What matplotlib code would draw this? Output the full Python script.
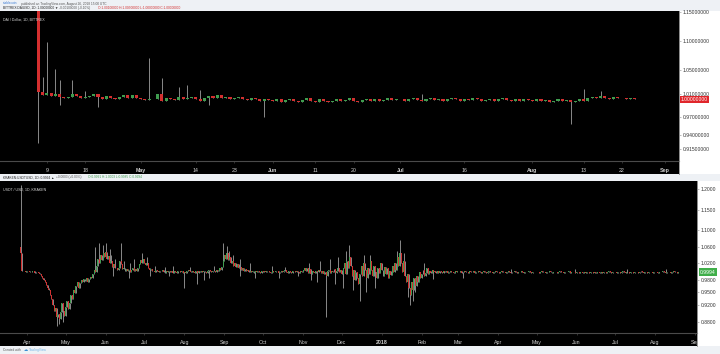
import matplotlib
matplotlib.use("Agg")
import matplotlib.pyplot as plt
import matplotlib.dates as mdates
import matplotlib.transforms as mtransforms
from matplotlib.patches import Rectangle
import numpy as np
import pandas as pd

W, H = 720, 354

# DAI / Dollar, 1D, BITTREX  (daily closes, open = previous close)
dai_start = "2018-04-07"
dai_first_open = 1.20
dai_close = [
    1.012, 1.008, 1.011, 1.006, 1.009, 1.005, 1.003, 1.005, 1.010, 1.006, 1.002, 1.004,
    1.006, 1.009, 1.004, 1.001, 1.006, 1.003, 1.000, 1.005, 1.007, 1.003, 1.007, 1.003,  # Apr
    1.000, 0.999, 1.001, 1.000, 1.009, 0.998, 1.003, 1.001, 0.999, 1.004, 1.000, 1.002,
    1.005, 1.001, 0.998, 1.002, 1.006, 1.003, 1.007, 1.002, 1.004, 1.000, 1.003, 1.005,
    1.001, 0.999, 1.002, 1.000, 0.997, 1.001, 0.999,  # May
    0.998, 1.000, 0.996, 0.999, 1.001, 0.997, 0.995, 0.999, 1.002, 0.998, 0.996, 1.000,
    0.997, 0.995, 0.998, 1.001, 0.997, 0.999, 1.002, 0.998, 0.996, 0.999, 1.001, 0.998,
    1.000, 0.997, 0.999, 1.002, 0.999, 1.000,  # Jun
    1.001, 0.998, 1.000, 1.003, 0.999, 0.997, 1.000, 1.002, 0.999, 1.001, 0.998, 1.000,
    1.003, 1.000, 0.998, 1.001, 0.999, 1.002, 1.000, 0.997, 0.999, 1.001, 0.998, 1.000,
    1.002, 0.999, 0.997, 1.000, 0.998, 1.001, 0.999,  # Jul
    0.998, 1.000, 0.997, 0.999, 0.996, 0.998, 1.000, 0.997, 0.999, 0.995, 0.998, 1.001,
    0.997, 1.003, 1.005, 1.002, 1.006, 1.003, 1.001, 1.004, 1.002, 1.003, 1.001, 1.002,
    1.000, 1.000,  # Aug
]
dai_high = {1: 1.038, 2: 1.098, 4: 1.052, 5: 1.033, 8: 1.033, 11: 1.015, 26: 1.071,
            29: 1.037, 33: 1.022, 35: 1.025, 38: 1.016, 90: 1.010, 128: 1.018, 132: 1.014}
dai_low = {0: 0.925, 5: 0.990, 14: 0.988, 40: 0.990, 53: 0.970, 125: 0.958}
dai_xticks = ["2018-04-09", "2018-04-18", "2018-05-01", "2018-05-14", "2018-05-23",
              "2018-06-01", "2018-06-11", "2018-06-20", "2018-07-01", "2018-07-16",
              "2018-08-01", "2018-08-13", "2018-08-22", "2018-09-01"]
dai_xlabels = ["9", "18", "May", "14", "23", "Jun", "11", "20", "Jul", "16",
               "Aug", "13", "22", "Sep"]
dai_yticks = [1.15, 1.10, 1.05, 1.01, 0.97, 0.94, 0.915]
dai_last = 1.0

# USDT / USD, 1D, KRAKEN
usdt_start = "2017-03-27"
usdt_first_open = 1.06
usdt_close = [
    1.045, 1.002, 1.001, 1.003, 1.000,  # Mar 2017
    1.001, 1.002, 0.999, 1.000, 1.002, 1.001, 0.998, 0.999, 1.000, 0.997, 0.994, 0.990,
    0.986, 0.981, 0.975, 0.969, 0.962, 0.955, 0.945, 0.935, 0.920, 0.905, 0.912, 0.890,
    0.898, 0.885, 0.902, 0.925, 0.905, 0.893,  # Apr
    0.915, 0.930, 0.910, 0.925, 0.945, 0.935, 0.955, 0.948, 0.965, 0.975, 0.960, 0.972,
    0.980, 0.975, 0.982, 0.978, 0.985, 0.976, 0.983, 0.988, 0.984, 0.995, 1.005, 1.000,
    1.015, 1.030, 1.022, 1.040, 1.028, 1.045, 1.035,  # May
    1.048, 1.030, 1.038, 1.020, 1.025, 1.012, 1.018, 1.008, 1.010, 1.004, 1.008, 1.025,
    1.018, 1.006, 1.010, 1.003, 1.007, 1.001, 1.005, 1.000, 1.004, 1.008, 1.002, 1.006,
    1.003, 1.010, 1.018, 1.028, 1.022, 1.030,  # Jun
    1.020, 1.016, 1.020, 1.008, 1.004, 1.006, 1.001, 1.003, 1.000, 1.004, 1.002, 0.999,
    1.003, 1.001, 1.004, 1.000, 0.998, 1.002, 1.000, 1.003, 0.999, 1.001, 0.997, 1.002,
    1.000, 0.998, 1.003, 1.001, 0.999, 1.002, 0.998,  # Jul
    1.000, 0.997, 1.002, 1.004, 1.001, 0.999, 1.003, 1.000, 0.998, 1.002, 0.997, 1.001,
    1.000, 1.003, 0.999, 1.002, 1.000, 0.998, 1.001, 1.004, 1.002, 0.999, 1.001, 1.003,
    1.000, 1.005, 1.002, 1.008, 1.004, 1.012, 1.025,  # Aug
    1.040, 1.030, 1.045, 1.028, 1.036, 1.020, 1.025, 1.015, 1.022, 1.012, 1.018, 1.008,
    1.012, 1.005, 1.009, 1.002, 1.006, 1.001, 1.004, 0.999, 1.003, 1.000, 1.002, 0.998,
    1.001, 0.999, 1.003, 1.000, 0.998, 1.001,  # Sep
    1.000, 1.002, 0.999, 1.001, 1.003, 1.000, 0.998, 1.002, 1.000, 0.999, 1.003, 1.001,
    0.998, 1.000, 1.002, 0.999, 1.001, 1.004, 1.000, 0.997, 1.002, 1.000, 0.998, 1.001,
    1.003, 0.999, 1.001, 1.000, 0.997, 1.002, 1.000,  # Oct
    1.004, 1.008, 1.002, 1.010, 0.998, 1.006, 0.995, 1.003, 1.000, 0.996, 1.002, 0.999,
    1.004, 1.001, 0.997, 1.003, 0.995, 1.000, 0.990, 1.002, 1.005, 0.998, 1.003, 1.000,
    1.006, 0.997, 1.002, 1.008, 1.000, 1.004,  # Nov
    0.995, 1.010, 1.020, 0.995, 1.025, 1.010, 1.035, 1.015, 0.990, 1.005, 0.980, 1.000,
    0.985, 0.970, 0.995, 1.015, 0.990, 1.020, 1.005, 0.985, 1.010, 0.995, 1.025, 1.005,
    0.990, 1.015, 1.000, 0.985, 1.010, 0.998, 1.020,  # Dec
    1.005, 0.990, 1.012, 0.995, 1.008, 0.985, 1.002, 0.993, 1.015, 1.000, 1.020, 1.005,
    1.035, 1.015, 1.045, 1.020, 1.000, 1.025, 0.990, 0.975, 0.995, 0.960, 0.945, 0.975,
    0.955, 0.985, 0.965, 0.990, 0.975, 1.000, 0.985,  # Jan 2018
    0.995, 1.005, 0.990, 0.998, 1.008, 0.994, 1.002, 0.996, 1.004, 0.999, 1.003, 0.997,
    1.001, 0.998, 1.002, 1.000, 0.997, 1.001, 0.999, 1.002, 0.998, 1.000, 1.001, 0.999,
    1.000, 0.998, 1.001, 1.000,  # Feb
    1.000, 0.999, 1.001, 0.998, 1.000, 1.002, 0.999, 1.000, 0.998, 1.001, 0.999, 1.000,
    1.001, 0.998, 1.000, 0.999, 1.002, 1.000, 0.998, 0.999, 1.001, 1.000, 0.998, 0.999,
    1.001, 1.000, 0.999, 0.998, 1.000, 1.001, 0.999,  # Mar
    1.000, 0.998, 0.999, 1.001, 0.999, 1.000, 0.998, 1.000, 1.001, 0.999, 0.998, 1.000,
    0.999, 1.001, 1.000, 0.998, 0.999, 1.000, 1.001, 0.999, 0.998, 1.000, 0.999, 1.000,
    1.001, 0.999, 0.998, 1.000, 0.999, 1.000,  # Apr
    0.999, 1.000, 0.998, 0.999, 1.001, 1.000, 0.999, 0.998, 1.000, 0.999, 1.001, 0.999,
    0.998, 1.000, 0.999, 1.000, 0.998, 0.999, 1.001, 0.999, 1.000, 0.998, 0.999, 1.000,
    0.999, 1.001, 0.998, 0.999, 1.000, 0.999, 0.998,  # May
    0.999, 1.000, 0.998, 0.999, 1.000, 0.997, 0.999, 0.998, 1.000, 0.999, 0.998, 0.999,
    1.000, 0.998, 0.999, 0.997, 0.999, 1.000, 0.998, 0.999, 0.998, 1.000, 0.999, 0.998,
    0.999, 1.001, 0.999, 0.998, 0.999, 1.000,  # Jun
    0.999, 0.998, 1.000, 0.999, 0.998, 0.999, 1.001, 0.999, 0.998, 1.000, 0.999, 0.998,
    0.999, 1.000, 0.998, 0.999, 1.000, 0.999, 0.998, 0.999, 1.001, 0.999, 0.998, 1.000,
    0.999, 0.998, 0.999, 1.000, 0.999, 0.998, 0.999,  # Jul
    1.000, 0.999, 0.998, 0.999, 1.000, 0.999, 1.001, 0.999, 0.998, 1.000, 0.999, 1.000,
    0.998, 0.999, 1.001, 1.000, 0.999, 0.998, 1.000, 0.999, 1.000, 0.999, 1.000, 0.9991,
    0.9993, 0.9994,  # Aug
]
usdt_high = {0: 1.21, 58: 1.06, 61: 1.07, 64: 1.065, 66: 1.07, 69: 1.055, 70: 1.04,
             73: 1.03, 78: 1.07, 80: 1.025, 85: 1.02, 88: 1.03, 94: 1.045, 98: 1.035,
             104: 1.015, 112: 1.012, 118: 1.015, 131: 1.012, 150: 1.015, 157: 1.07,
             160: 1.062, 162: 1.05, 165: 1.04, 170: 1.03, 178: 1.02, 195: 1.015,
             205: 1.012, 224: 1.02, 232: 1.025, 240: 1.03, 246: 1.035, 252: 1.05,
             255: 1.064, 266: 1.04, 271: 1.04, 292: 1.05, 294: 1.077, 297: 1.045,
             313: 1.02, 380: 1.006, 430: 1.007, 470: 1.006, 500: 1.006}
usdt_low = {28: 0.87, 30: 0.875, 33: 0.88, 72: 0.99, 84: 0.985, 100: 0.99, 115: 0.99,
            127: 0.96, 137: 0.97, 142: 0.98, 146: 0.985, 170: 0.99, 182: 0.985,
            200: 0.985, 215: 0.99, 225: 0.98, 230: 0.975, 237: 0.89, 244: 0.97,
            250: 0.96, 258: 0.955, 263: 0.93, 268: 0.95, 275: 0.96, 300: 0.94,
            302: 0.92, 304: 0.93, 306: 0.95, 320: 0.982, 343: 0.985}
usdt_xticks = ["2017-04-01", "2017-05-01", "2017-06-01", "2017-07-01", "2017-08-01",
               "2017-09-01", "2017-10-01", "2017-11-01", "2017-12-01", "2018-01-01",
               "2018-02-01", "2018-03-01", "2018-04-01", "2018-05-01", "2018-06-01",
               "2018-07-01", "2018-08-01", "2018-09-01"]
usdt_xlabels = ["Apr", "May", "Jun", "Jul", "Aug", "Sep", "Oct", "Nov", "Dec", "2018",
                "Feb", "Mar", "Apr", "May", "Jun", "Jul", "Aug", "Sep"]
usdt_yticks = [1.20, 1.15, 1.10, 1.06, 1.02, 0.98, 0.95, 0.92, 0.88]
usdt_last = 0.9994

UP, DOWN, WICK = "#3f9d4f", "#d42f2f", "#a0a0a0"
FONT = ["Liberation Sans", "DejaVu Sans"]
plt.rcParams["font.family"] = FONT


def box(x0, y0, x1, y1):
    # pixel box -> figure fraction rect
    return [x0 / W, 1 - y1 / H, (x1 - x0) / W, (y1 - y0) / H]


def candles(ax, start, first_open, closes, highs, lows, width, min_h):
    dates = pd.date_range(start, periods=len(closes), freq="D")
    x = mdates.date2num(dates)
    c = np.array(closes, dtype=float)
    o = np.concatenate([[first_open], c[:-1]])
    top = np.maximum(o, c)
    bot = np.minimum(o, c)
    hi = top.copy()
    lo = bot.copy()
    for i, v in highs.items():
        if i < len(hi):
            hi[i] = v
    for i, v in lows.items():
        if i < len(lo):
            lo[i] = v
    ax.vlines(x, lo, hi, color=WICK, linewidth=0.6, zorder=2)
    colors = np.where(c >= o, UP, DOWN)
    ax.bar(x, np.maximum(top - bot, min_h), bottom=bot, width=width, color=colors,
           linewidth=0, zorder=3)


def style_axes(ax, xticks, xlabels, yticks, fmt):
    ax.set_facecolor("black")
    for s in ["top", "left"]:
        ax.spines[s].set_visible(False)
    ax.spines["right"].set_color("#8a8a8a")
    ax.spines["right"].set_linewidth(0.6)
    ax.spines["bottom"].set_color("#4a4a4a")
    ax.spines["bottom"].set_linewidth(0.8)
    ax.yaxis.tick_right()
    ax.set_yticks(yticks)
    ax.set_yticklabels([fmt % v for v in yticks])
    ax.tick_params(axis="y", labelsize=3.6, colors="#8a8a8a", labelcolor="#333333",
                   length=1.5, width=0.4, pad=1.2)
    ax.set_xticks(mdates.date2num(pd.to_datetime(xticks)))
    ax.set_xticklabels(xlabels)
    ax.tick_params(axis="x", labelsize=3.8, colors="#555555", labelcolor="#d0d0d0",
                   length=1.5, width=0.4, pad=3.2)


fig = plt.figure(figsize=(W / 100, H / 100), dpi=100, facecolor="white")

# light strips and black x-axis bands
for y0, y1 in [(0, 11), (174, 181), (346, 354)]:
    fig.patches.append(Rectangle((0, 1 - y1 / H), 1, (y1 - y0) / H, transform=fig.transFigure,
                                 facecolor="#eef1f5", edgecolor="none", zorder=-2))
for y0, y1, x1 in [(161, 174, 679), (333, 346, 697)]:
    fig.patches.append(Rectangle((0, 1 - y1 / H), x1 / W, (y1 - y0) / H,
                                 transform=fig.transFigure, facecolor="black",
                                 edgecolor="none", zorder=-1))
fig.lines.append(plt.Line2D([679 / W, 679 / W], [1 - 174 / H, 1 - 11 / H],
                            transform=fig.transFigure, color="#8a8a8a", lw=0.6))
fig.lines.append(plt.Line2D([697 / W, 697 / W], [1 - 346 / H, 1 - 181 / H],
                            transform=fig.transFigure, color="#8a8a8a", lw=0.6))

# ---- top chart: DAI ----
ax1 = fig.add_axes(box(0, 11, 679, 161))
candles(ax1, dai_start, dai_first_open, dai_close, dai_high, dai_low, 0.72, 0.0012)
d0 = mdates.date2num(pd.Timestamp(dai_start))
ax1.set_xlim(d0 - 9.0, d0 + 150.4)
ax1.set_ylim(0.895, 1.151)
style_axes(ax1, dai_xticks, dai_xlabels, dai_yticks, "%.8f")
for lbl in ax1.get_xticklabels():
    if lbl.get_text().isalpha():
        lbl.set_fontweight("bold")
ax1.text(0.005, 0.955, "DAI / Dollar, 1D, BITTREX", transform=ax1.transAxes,
         color="#d8d8d8", fontsize=2.6, va="top", ha="left")
ax1.text(1.003, dai_last, "1.00000000",
         transform=mtransforms.blended_transform_factory(ax1.transAxes, ax1.transData),
         color="white", fontsize=3.6, va="center", ha="left", clip_on=False,
         bbox=dict(facecolor="#e0262b", edgecolor="none", pad=0.9), zorder=10)

# ---- bottom chart: USDT ----
ax2 = fig.add_axes(box(0, 181, 697, 333))
candles(ax2, usdt_start, usdt_first_open, usdt_close, usdt_high, usdt_low, 0.75, 0.0012)
a0 = mdates.date2num(pd.Timestamp("2017-04-01"))
ax2.set_xlim(a0 - 20.9, a0 + 519.4)
ax2.set_ylim(0.8524, 1.2187)
style_axes(ax2, usdt_xticks, usdt_xlabels, usdt_yticks, "%.4f")
clip = mtransforms.TransformedBbox(mtransforms.Bbox([[0, 0], [697 / W, 1]]), fig.transFigure)
for lbl in ax2.get_xticklabels():
    lbl.set_clip_box(clip)
    lbl.set_clip_on(True)
    if lbl.get_text() == "2018":
        lbl.set_fontweight("bold")
ax2.text(0.005, 0.955, "USDT / USD, 1D, KRAKEN", transform=ax2.transAxes,
         color="#d8d8d8", fontsize=2.6, va="top", ha="left")
ax2.text(1.004, usdt_last, "0.9994",
         transform=mtransforms.blended_transform_factory(ax2.transAxes, ax2.transData),
         color="white", fontsize=3.6, va="center", ha="left", clip_on=False,
         bbox=dict(facecolor="#3fae49", edgecolor="none", pad=0.9), zorder=10)

# ---- header / footer texts ----
HS = 2.3
fig.text(3 / W, 1 - 3.5 / H, "stablecoin", color="#3a7bd5", fontsize=HS, va="center")
fig.text(21 / W, 1 - 3.5 / H, "published on TradingView.com, August 26, 2018 15:00 UTC",
         color="#555555", fontsize=HS, va="center")
fig.text(3 / W, 1 - 8 / H, "BITTREX:DAIUSD, 1D: 1.00000000 \u25bc", color="#222222",
         fontsize=HS, va="center")
fig.text(59 / W, 1 - 8 / H, "-0.00100000 (-0.10%)", color="#555555", fontsize=HS,
         va="center")
fig.text(98 / W, 1 - 8 / H, "O:1.00100000 H:1.00500000 L:1.00000000 C:1.00000000",
         color="#d42f2f", fontsize=HS, va="center")
fig.text(3 / W, 1 - 177.5 / H, "KRAKEN:USDTUSD, 1D: 0.9994 \u25b2", color="#222222",
         fontsize=HS, va="center")
fig.text(56 / W, 1 - 177.5 / H, "+0.0003 (+0.03%)", color="#555555", fontsize=HS,
         va="center")
fig.text(88 / W, 1 - 177.5 / H, "O:0.9991 H:1.0003 L:0.9985 C:0.9994",
         color="#3f9d4f", fontsize=HS, va="center")
fig.text(3 / W, 1 - 350 / H, "Created with", color="#555555", fontsize=HS, va="center")
fig.text(23.5 / W, 1 - 350 / H, "\u2601", color="#3a8fd5", fontsize=3.0, va="center")
fig.text(29 / W, 1 - 350 / H, "TradingView", color="#6fb3e8", fontsize=HS, va="center")

fig.savefig("out.png", dpi=100, facecolor=fig.get_facecolor())
